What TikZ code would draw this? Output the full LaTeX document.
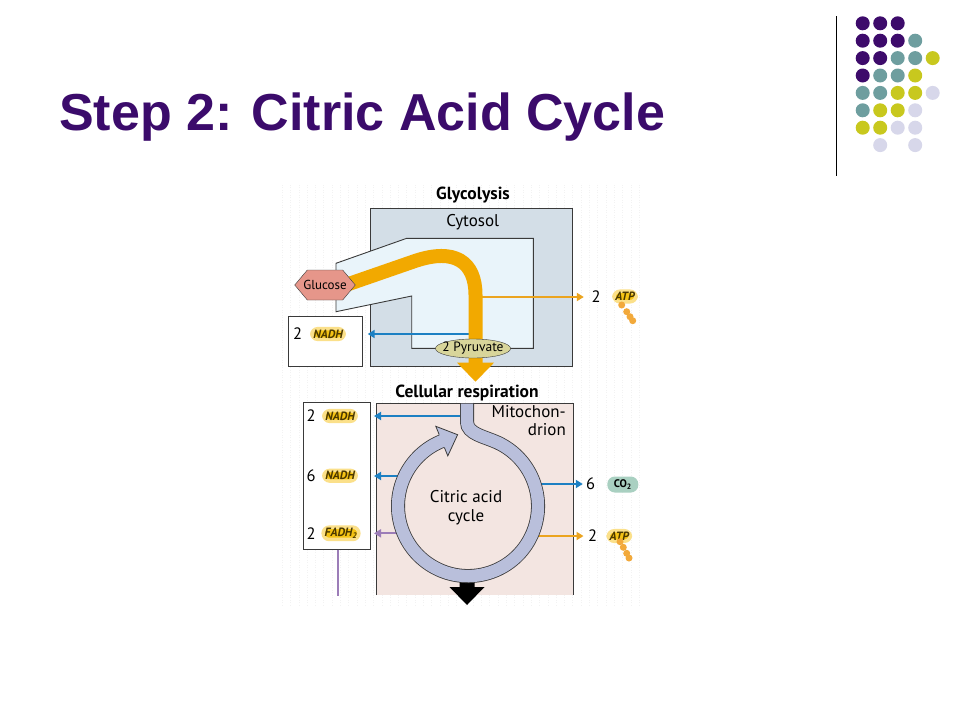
\documentclass[tikz,border=0pt]{standalone}
\usepackage{fontspec}
\setmainfont{Liberation Sans}
\newfontfamily\figfont{PT Sans}
\usepackage{xcolor}
\usetikzlibrary{shapes.geometric,shapes.symbols,arrows.meta}
\definecolor{titlepurple}{HTML}{3B0B6B}
\definecolor{dotpurple}{HTML}{3D0B6B}
\definecolor{dotteal}{HTML}{6E9E9F}
\definecolor{dotyellow}{HTML}{C8C81E}
\definecolor{dotlilac}{HTML}{D7D7EA}
\definecolor{cytofill}{HTML}{D3DEE7}
\definecolor{innerfill}{HTML}{E9F4FA}
\definecolor{boxgray}{HTML}{3A3A3A}
\definecolor{bandorange}{HTML}{F2A900}
\definecolor{glucfill}{HTML}{E6968A}
\definecolor{pyrfill}{HTML}{D8D59A}
\definecolor{mitofill}{HTML}{F3E5E1}
\definecolor{ringfill}{HTML}{B9BFDB}
\definecolor{arrowblue}{HTML}{1C80C3}
\definecolor{arroworange}{HTML}{EBA41F}
\definecolor{arrowpurple}{HTML}{9C7DB8}
\definecolor{badgefill}{HTML}{F5C314}
\definecolor{badgeglow}{HTML}{FBE08A}
\definecolor{badgetext}{HTML}{4A3800}
\definecolor{co2fill}{HTML}{A9D0C1}
\definecolor{tailorange}{HTML}{F2A93B}

\begin{document}
\begin{tikzpicture}[x=1pt,y=-1pt,
	lbl/.style={font=\figfont\fontsize{17}{18.4}\selectfont, inner sep=0pt},
	hdr/.style={font=\figfont\bfseries\fontsize{17.5}{18}\selectfont, inner sep=0pt},
	num/.style={font=\figfont\fontsize{16.5}{16.5}\selectfont, inner sep=0pt},
	badge/.style={font=\figfont\bfseries\itshape\fontsize{12}{12}\selectfont, text=badgetext, fill=badgefill, draw=badgeglow, line width=3.5pt, rounded corners=6pt, inner xsep=1.5pt, inner ysep=1pt},
	boxline/.style={draw=boxgray, line width=0.9pt},
	whitebox/.style={boxline, fill=white, inner sep=0pt},
	ringline/.style={draw=boxgray, line width=0.8pt},
	bluearr/.style={draw=arrowblue, line width=2.2pt, -{Triangle[length=7pt,width=8pt]}},
	orangearr/.style={draw=arroworange, line width=2.2pt, -{Triangle[length=7pt,width=8pt]}},
	purplearr/.style={draw=arrowpurple, line width=2.2pt, -{Triangle[length=7pt,width=8pt]}},
	tail/.style={fill=tailorange}]
	\useasboundingbox[fill=white] (0,0) rectangle (960,720);

	% title and corner dots
	\node[anchor=base west, inner sep=0pt, text=titlepurple, font=\bfseries\fontsize{52}{52}\selectfont] (title) at (59,130) {Step 2: Citric Acid Cycle};
	\draw[line width=1pt] (836.5,16) -- (836.5,176);
	\foreach \cx/\cy/\cc in {0/0/dotpurple,1/0/dotpurple,2/0/dotpurple,
		0/1/dotpurple,1/1/dotpurple,2/1/dotpurple,3/1/dotteal,
		0/2/dotpurple,1/2/dotpurple,2/2/dotteal,3/2/dotteal,4/2/dotyellow,
		0/3/dotpurple,1/3/dotteal,2/3/dotteal,3/3/dotyellow,
		0/4/dotteal,1/4/dotteal,2/4/dotyellow,3/4/dotyellow,4/4/dotlilac,
		0/5/dotteal,1/5/dotyellow,2/5/dotyellow,3/5/dotlilac,
		0/6/dotyellow,1/6/dotyellow,2/6/dotlilac,3/6/dotlilac,
		1/7/dotlilac,3/7/dotlilac}
		\fill[\cc] (862.7+17.5*\cx,23.3+17.4*\cy) circle[radius=7];

	\draw[black!5, dotted, line width=0.5pt, step=8.3] (280,183) grid (645,605);

	% glycolysis
	\node[hdr] (glyHdr) at (473,195) {Glycolysis};
	\draw[boxline, fill=cytofill] (370.7,208.3) rectangle (572.7,366);
	\node[lbl] (cytoLbl) at (472.7,222) {Cytosol};
	\draw[boxline, fill=innerfill] (336,263.3) -- (406.7,238.3) -- (533.3,238.3) -- (533.3,348.3) -- (411.7,348.3) -- (411.7,296) -- (336,311.7) -- cycle;
	\node[whitebox, minimum width=74.7pt, minimum height=49.3pt] (nadhBoxG) at (325.4,341.4) {};
	\node[num] (twoNadhG) at (297.5,334) {2};
	\node[badge] (nadhG) at (328,334) {NADH};
	\node[num] (twoAtpG) at (596,297) {2};
	\node[badge] (atpG) at (625,296.5) {ATP};
	\foreach \tx/\ty in {621.7/305,626.7/311.7,630/316.7,632.7/320.7}
		\fill[tail] (\tx,\ty) circle[radius=3.5];
	\coordinate (atpOut) at (481,297);
	\coordinate (nadhOut) at (470,334);
	\draw[orangearr, shorten >=7.5pt] (atpOut) -- (atpOut -| twoAtpG.west);
	\draw[bluearr, shorten >=4.5pt] (nadhOut) -- (nadhOut -| nadhBoxG.east);
	\draw[bandorange, line width=14pt] (340,287) -- (415,261) .. controls (455,247.5) and (475.5,262) .. (475.5,295) -- (475.5,364);
	\fill[bandorange] (457,362.7) -- (494,362.7) -- (475.5,381.7) -- cycle;
	\node[signal, signal to=west and east, signal pointer angle=100, draw=boxgray, fill=glucfill, minimum height=30pt, inner xsep=-4pt, inner ysep=0pt, font=\figfont\fontsize{13}{13}\selectfont] (glucose) at (325,285) {Glucose};
	\node[ellipse, draw=boxgray, fill=pyrfill, minimum height=19pt, inner xsep=-4pt, inner ysep=0pt, font=\figfont\fontsize{13.5}{13.5}\selectfont] (pyruvate) at (473,348.5) {2 Pyruvate};

	% cellular respiration
	\node[hdr] (cellHdr) at (467,392.7) {Cellular respiration};
	\fill[mitofill] (376.7,403.3) rectangle (573.3,595);
	\draw[boxline] (376.7,595) -- (376.7,403.3) -- (573.3,403.3) -- (573.3,595);
	\node[lbl, align=right, anchor=north east] (mitoLbl) at (566,405) {Mitochon-\\drion};
	\node[whitebox, minimum width=66.7pt, minimum height=146.3pt] (nadhBoxM) at (336.7,475.9) {};
	\node[num] (twoNadhM) at (311,416) {2};
	\node[badge] (nadhM) at (340,416) {NADH};
	\node[num] (sixNadhM) at (311,475.7) {6};
	\node[badge] (nadhMM) at (340,475.7) {NADH};
	\node[num] (twoFadhM) at (311,533.3) {2};
	\node[badge] (fadhM) at (341,533.3) {FADH\textsubscript{2}};
	\node[num] (sixCo2) at (590.5,484) {6};
	\node[fill=co2fill, rounded corners=7.5pt, minimum width=31pt, minimum height=16pt, inner sep=0pt, font=\figfont\bfseries\fontsize{11}{11}\selectfont] (co2) at (622.8,484.5) {CO\textsubscript{2}};
	\node[num] (twoAtpM) at (592.7,536) {2};
	\node[badge] (atpM) at (619.3,536) {ATP};
	\foreach \tx/\ty in {620/541.7,623.3/547.3,626.7/553.3,629/558}
		\fill[tail] (\tx,\ty) circle[radius=3.5];

	\coordinate (ringC) at (468,506);
	\coordinate (nadh2Out) at (462,416);
	\coordinate (nadh6Out) at (400,476);
	\coordinate (fadhOut) at (400,533.3);
	\coordinate (co2Out) at (539,484);
	\coordinate (atp2Out) at (536,536);
	\coordinate (fadhDown) at (338.3,596);
	\draw[bluearr, shorten >=3.5pt] (nadh2Out) -- (nadh2Out -| nadhBoxM.east);
	\draw[bluearr, shorten >=3.5pt] (nadh6Out) -- (nadh6Out -| nadhBoxM.east);
	\draw[purplearr, shorten >=3.5pt] (fadhOut) -- (fadhOut -| nadhBoxM.east);
	\draw[arrowpurple, line width=2.2pt] (fadhDown |- nadhBoxM.south) -- (fadhDown);
	\draw[bluearr, shorten >=3pt] (co2Out) -- (co2Out -| sixCo2.west);
	\draw[orangearr, shorten >=4.5pt] (atp2Out) -- (atp2Out -| twoAtpM.west);

	\fill[black] (459.5,575) -- (474.5,575) -- (474.5,587) -- (484.5,587) -- (467,605) -- (449.5,587) -- (459.5,587) -- cycle;
	\draw[ringline, double=ringfill, double distance=12.4pt] (467,403.5) -- (467,422) .. controls (467,434) and (485,436.7) .. (497.6,442.6) arc[start angle=-65, end angle=249, radius=70];
	\fill[ringfill] (439.2,434.6) -- (435.8,426.3) -- (457.6,434.7) -- (447.8,455.9) -- (444.4,447.6) -- cycle;
	\draw[ringline] (439.2,434.6) -- (435.8,426.3) -- (457.6,434.7) -- (447.8,455.9) -- (444.4,447.6);
	\node[lbl, align=center] (cycleLbl) at (466,507.5) {Citric acid\\cycle};
\end{tikzpicture}
\end{document}
